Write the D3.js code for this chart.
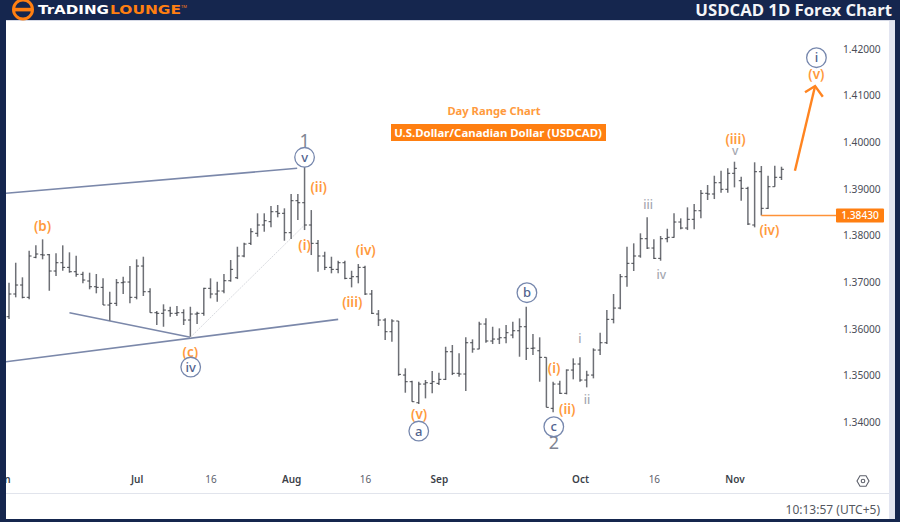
<!DOCTYPE html>
<html>
<head>
<meta charset="utf-8">
<script src="https://cdnjs.cloudflare.com/ajax/libs/d3/7.8.5/d3.min.js"></script>
<style>
  html, body { margin: 0; padding: 0; background: #fff; }
  svg { display: block; }
</style>
</head>
<body>
<div id="chart"></div>
<script>
const opens = [1.36258, 1.36745, 1.36938, 1.36674, 1.37532, 1.37588, 1.37588, 1.37238, 1.37416, 1.37317, 1.37223, 1.37167, 1.37024, 1.36901, 1.36888, 1.36509, 1.36545, 1.36987, 1.37002, 1.36674, 1.37345, 1.36794, 1.36344, 1.36331, 1.36386, 1.36331, 1.36344, 1.36187, 1.36316, 1.36331, 1.36867, 1.36745, 1.36809, 1.3703, 1.37094, 1.3756, 1.37832, 1.38047, 1.38225, 1.38296, 1.3851, 1.38476, 1.3806, 1.38746, 1.38703, 1.38225, 1.37832, 1.3756, 1.37317, 1.37274, 1.37416, 1.37081, 1.37116, 1.37317, 1.36745, 1.36316, 1.36187, 1.35936, 1.36166, 1.35007, 1.34864, 1.34413, 1.34814, 1.34829, 1.34829, 1.34915, 1.35507, 1.35044, 1.35029, 1.357, 1.35565, 1.36101, 1.35737, 1.35779, 1.35807, 1.35865, 1.35957, 1.36043, 1.3558, 1.35528, 1.35387, 1.34293, 1.34814, 1.34615, 1.35114, 1.35243, 1.349, 1.35007, 1.35543, 1.357, 1.36202, 1.36444, 1.37116, 1.37403, 1.3756, 1.37931, 1.37731, 1.3751, 1.37931, 1.37961, 1.38289, 1.3816, 1.38347, 1.38531, 1.38905, 1.3889, 1.39132, 1.38991, 1.39334, 1.39175, 1.39012, 1.38225, 1.39368, 1.38583, 1.39046, 1.39248]
const highs = [1.36987, 1.37416, 1.37103, 1.37673, 1.37789, 1.37918, 1.37603, 1.37618, 1.37789, 1.37639, 1.37566, 1.37223, 1.37202, 1.37174, 1.37081, 1.36794, 1.37066, 1.37116, 1.37345, 1.37489, 1.37545, 1.36867, 1.3638, 1.36524, 1.36472, 1.36487, 1.36417, 1.36472, 1.36365, 1.3688, 1.37081, 1.37009, 1.37174, 1.37474, 1.37759, 1.37845, 1.38154, 1.38476, 1.38476, 1.38632, 1.38654, 1.38583, 1.3889, 1.3889, 1.39512, 1.38546, 1.37903, 1.37652, 1.37545, 1.37459, 1.37459, 1.37244, 1.37388, 1.37352, 1.36831, 1.36401, 1.36223, 1.36202, 1.36166, 1.35151, 1.34885, 1.34864, 1.349, 1.35093, 1.35057, 1.35614, 1.35651, 1.35473, 1.35816, 1.35773, 1.36151, 1.36223, 1.36043, 1.36009, 1.3608, 1.36151, 1.36223, 1.36472, 1.35887, 1.35816, 1.35387, 1.34864, 1.34885, 1.35129, 1.35365, 1.35387, 1.35099, 1.3558, 1.35915, 1.36401, 1.36745, 1.37174, 1.37759, 1.37832, 1.38047, 1.3839, 1.37918, 1.37989, 1.38145, 1.38476, 1.38368, 1.38604, 1.38675, 1.38975, 1.39083, 1.39282, 1.3939, 1.39441, 1.39583, 1.39261, 1.39046, 1.3957, 1.3949, 1.39282, 1.39497, 1.39475]
const lows = [1.36208, 1.36674, 1.36652, 1.36631, 1.3751, 1.37489, 1.36815, 1.37131, 1.37244, 1.37202, 1.37116, 1.36974, 1.36846, 1.3676, 1.36509, 1.36172, 1.36487, 1.36745, 1.36545, 1.36631, 1.36702, 1.36344, 1.3608, 1.36043, 1.36258, 1.36273, 1.3608, 1.35829, 1.36101, 1.36279, 1.36652, 1.3658, 1.3676, 1.37009, 1.37066, 1.37532, 1.37796, 1.37974, 1.38081, 1.38175, 1.3839, 1.37888, 1.37924, 1.38332, 1.38117, 1.37581, 1.37223, 1.37259, 1.37189, 1.37189, 1.3706, 1.36888, 1.36974, 1.36723, 1.36316, 1.36058, 1.35758, 1.35721, 1.34992, 1.34628, 1.34435, 1.34385, 1.34507, 1.34615, 1.34793, 1.349, 1.35007, 1.34971, 1.34664, 1.35486, 1.35558, 1.357, 1.35672, 1.35672, 1.35687, 1.35794, 1.354, 1.35329, 1.35436, 1.34864, 1.34314, 1.34207, 1.346, 1.34593, 1.34915, 1.34864, 1.34743, 1.34936, 1.35436, 1.35672, 1.36116, 1.36417, 1.36901, 1.37238, 1.37523, 1.3771, 1.37495, 1.37459, 1.37854, 1.37952, 1.38133, 1.38117, 1.38133, 1.38368, 1.38761, 1.38782, 1.38918, 1.38918, 1.39033, 1.38746, 1.38225, 1.38175, 1.3843, 1.38568, 1.39046, 1.3919]
const closes = [1.36745, 1.36938, 1.36674, 1.3756, 1.37603, 1.37581, 1.37238, 1.37416, 1.37317, 1.37223, 1.37167, 1.37045, 1.36901, 1.36888, 1.36509, 1.36545, 1.36987, 1.37002, 1.36674, 1.37345, 1.36794, 1.36344, 1.36331, 1.36401, 1.36331, 1.36344, 1.36187, 1.36316, 1.36331, 1.36867, 1.36745, 1.36809, 1.3703, 1.37274, 1.3756, 1.37817, 1.38081, 1.38225, 1.38317, 1.3851, 1.38476, 1.3806, 1.38746, 1.38703, 1.38225, 1.37832, 1.3756, 1.37317, 1.37274, 1.37416, 1.37081, 1.37116, 1.37317, 1.36745, 1.36331, 1.36187, 1.35936, 1.36166, 1.35022, 1.34864, 1.34435, 1.34814, 1.34842, 1.34864, 1.34915, 1.35507, 1.35044, 1.35029, 1.357, 1.35565, 1.36101, 1.35737, 1.35779, 1.35807, 1.35915, 1.35957, 1.36043, 1.3558, 1.35586, 1.35387, 1.34314, 1.34814, 1.34615, 1.35114, 1.35243, 1.349, 1.35007, 1.35543, 1.357, 1.36202, 1.36444, 1.37116, 1.37403, 1.3756, 1.37931, 1.37731, 1.3751, 1.37931, 1.37961, 1.38289, 1.3816, 1.38347, 1.38531, 1.38905, 1.3889, 1.39132, 1.38991, 1.39334, 1.39441, 1.39012, 1.38246, 1.39368, 1.38583, 1.39046, 1.39248, 1.3942]

const priceTicks = [1.42, 1.41, 1.40, 1.39, 1.38, 1.37, 1.36, 1.35, 1.34]
const timeTickBars = [0, 20, 31, 43, 54, 65, 86, 97, 109]
const timeTickLabels = ['Jun', 'Jul', '16', 'Aug', '16', 'Sep', 'Oct', '16', 'Nov']
const lastPrice = 1.3843
const lastPriceBar = 113

// trend lines, each as [bar, price] ends
const channelLines = [
  [[0.55, 1.38905], [43.9, 1.39441]],
  [[0.55, 1.35292], [50, 1.36202]],
  [[10, 1.36343], [28, 1.35816]]
]
const faintLine = [[28, 1.35816], [45, 1.38225]]
const arrowShaft = [[118, 1.39389], [121, 1.41206]]
const arrowHead = [[119.5, 1.41071], [121, 1.41206], [122.15, 1.40977]]

const orangeLabels = ['(b)', '(c)', '(ii)', '(i)', '(iv)', '(iii)', '(v)', '(i)', '(ii)', '(iii)', '(iv)', '(v)']
const orangeBars = [6, 28, 47.1, 45, 54.1, 52.1, 62.05, 82.15, 84.1, 109.15, 114.2, 121.2]
const orangePrices = [1.38203, 1.35494, 1.39033, 1.37781, 1.37673, 1.36558, 1.34164, 1.35151, 1.34271, 1.40063, 1.38117, 1.41457]

const grayLabels = ['i', 'ii', 'iii', 'iv', 'v']
const grayBars = [86, 87.05, 96.15, 98.1, 109.1]
const grayPrices = [1.35794, 1.34486, 1.38654, 1.37152, 1.39818]

const degreeLabels = ['1', '2']
const degreeBars = [45, 82.1]
const degreePrices = [1.40027, 1.33555]

const circleLabels = ['iv', 'v', 'a', 'b', 'c', 'i']
const circleBars = [28.05, 45, 62, 78.1, 82.1, 121.2]
const circlePrices = [1.35179, 1.39677, 1.33806, 1.36773, 1.33898, 1.41813]

const width = 900
const height = 522
const navy = '#15264e'
const orange = '#ff7f11'
const labelOrange = '#ff9a3d'
const uiFont = '"Noto Sans", sans-serif'

const svg = d3.select('#chart')
  .append('svg')
  .attr('width', width)
  .attr('height', height)
  .style('font-family', uiFont)

const x = d3.scaleLinear([1, 116], [9, 781.5])
const y = d3.scaleLinear([1.34, 1.42], [422, 49])

svg.append('rect').attr('width', width).attr('height', height).attr('fill', '#fff')

// axes
const yAxis = svg.append('g')
  .attr('transform', 'translate(843, 0)')
  .call(d3.axisRight(y).tickValues(priceTicks).tickFormat(d3.format('.5f')).tickSize(0).tickPadding(0))
yAxis.select('.domain').remove()
yAxis.selectAll('text')
  .attr('font-size', 10.2)
  .attr('font-family', uiFont)
  .attr('fill', '#4a4d57')

const xAxis = svg.append('g')
  .attr('transform', 'translate(0, 476)')
  .call(d3.axisBottom(x).tickValues(timeTickBars).tickFormat((d, i) => timeTickLabels[i]).tickSize(0).tickPadding(0))
xAxis.select('.domain').remove()
xAxis.selectAll('text')
  .attr('font-size', 10)
  .attr('font-family', uiFont)
  .attr('font-weight', (d, i) => /\d/.test(timeTickLabels[i]) ? 400 : 600)
  .attr('fill', (d, i) => /\d/.test(timeTickLabels[i]) ? '#5d606b' : '#3c3f49')

const path = d3.line().x(d => x(d[0])).y(d => y(d[1]))

// channels
svg.append('g')
  .selectAll('path')
  .data(channelLines)
  .join('path')
  .attr('d', path)
  .attr('fill', 'none')
  .attr('stroke', '#7b88aa')
  .attr('stroke-width', 1.6)

svg.append('path')
  .attr('d', path(faintLine))
  .attr('fill', 'none')
  .attr('stroke', '#d9dbe0')
  .attr('stroke-width', 1)
  .attr('stroke-dasharray', '2 1')

// price bars
const bars = svg.append('g')
  .selectAll('g')
  .data(opens)
  .join('g')
  .attr('transform', (d, i) => `translate(${x(i + 1)}, 0)`)

bars.append('line')
  .attr('y1', (d, i) => y(highs[i]))
  .attr('y2', (d, i) => y(lows[i]))
  .attr('stroke', '#6e7076')
  .attr('stroke-width', 1.5)

bars.append('line')
  .attr('x1', -2.4)
  .attr('x2', 0)
  .attr('y1', d => y(d))
  .attr('y2', d => y(d))
  .attr('stroke', '#33363c')
  .attr('stroke-width', 0.9)

bars.append('line')
  .attr('x1', 0)
  .attr('x2', 2.4)
  .attr('y1', (d, i) => y(closes[i]))
  .attr('y2', (d, i) => y(closes[i]))
  .attr('stroke', '#33363c')
  .attr('stroke-width', 0.9)

// last price line and tag
svg.append('line')
  .attr('x1', x(lastPriceBar))
  .attr('x2', 836)
  .attr('y1', y(lastPrice))
  .attr('y2', y(lastPrice))
  .attr('stroke', '#ff9238')
  .attr('stroke-width', 1.4)

svg.append('rect')
  .attr('x', 836)
  .attr('y', y(lastPrice) - 6.9)
  .attr('width', 48)
  .attr('height', 14)
  .attr('rx', 1)
  .attr('fill', orange)

svg.append('text')
  .attr('x', 860)
  .attr('y', y(lastPrice) + 4)
  .attr('text-anchor', 'middle')
  .attr('font-size', 10.2)
  .attr('font-weight', 500)
  .attr('fill', '#fff')
  .text(d3.format('.5f')(lastPrice))

// forecast arrow
svg.append('g')
  .selectAll('path')
  .data([arrowShaft, arrowHead])
  .join('path')
  .attr('d', path)
  .attr('fill', 'none')
  .attr('stroke', '#ff8420')
  .attr('stroke-width', 2.4)

// wave labels
function addLabels (labels, bars, prices, size, weight, color) {
  svg.append('g')
    .selectAll('text')
    .data(labels)
    .join('text')
    .attr('x', (d, i) => x(bars[i]))
    .attr('y', (d, i) => y(prices[i]))
    .attr('dy', '0.35em')
    .attr('text-anchor', 'middle')
    .attr('font-size', size)
    .attr('font-weight', weight)
    .attr('fill', color)
    .text(d => d)
}

addLabels(orangeLabels, orangeBars, orangePrices, 13.5, 600, labelOrange)
addLabels(grayLabels, grayBars, grayPrices, 12, 500, '#a4a7b0')
addLabels(degreeLabels, degreeBars, degreePrices, 18, 400, '#7f8592')

svg.append('g')
  .selectAll('circle')
  .data(circleLabels)
  .join('circle')
  .attr('cx', (d, i) => x(circleBars[i]))
  .attr('cy', (d, i) => y(circlePrices[i]))
  .attr('r', 9.8)
  .attr('fill', '#fff')
  .attr('stroke', '#7687ad')
  .attr('stroke-width', 1.3)
addLabels(circleLabels, circleBars, circlePrices, 13, 500, '#52638e')

// chart captions
svg.append('text')
  .attr('x', 494)
  .attr('y', 115)
  .attr('text-anchor', 'middle')
  .attr('font-size', 11.2)
  .attr('font-weight', 700)
  .attr('fill', labelOrange)
  .text('Day Range Chart')

svg.append('rect')
  .attr('x', 391)
  .attr('y', 124)
  .attr('width', 215)
  .attr('height', 17)
  .attr('fill', orange)

svg.append('text')
  .attr('x', 498)
  .attr('y', 136.5)
  .attr('text-anchor', 'middle')
  .attr('font-size', 11.4)
  .attr('font-weight', 700)
  .attr('fill', '#fff')
  .text('U.S.Dollar/Canadian Dollar (USDCAD)')

// settings icon
const gear = svg.append('g').attr('transform', 'translate(863, 481)')
gear.append('path')
  .attr('d', d3.line()(d3.range(6).map(i => {
    const a = Math.PI / 3 * i
    return [6 * Math.cos(a), 6 * Math.sin(a)]
  })) + 'Z')
  .attr('fill', 'none')
  .attr('stroke', '#5d606b')
  .attr('stroke-width', 1.1)
gear.append('circle')
  .attr('r', 1.8)
  .attr('fill', 'none')
  .attr('stroke', '#5d606b')
  .attr('stroke-width', 1.1)

svg.append('line')
  .attr('x1', 6)
  .attr('x2', 889)
  .attr('y1', 493.5)
  .attr('y2', 493.5)
  .attr('stroke', '#e1e4ec')

svg.append('text')
  .attr('x', 880)
  .attr('y', 514)
  .attr('text-anchor', 'end')
  .attr('font-size', 12)
  .attr('fill', '#55585f')
  .text('10:13:57 (UTC+5)')

// page frame
svg.append('rect').attr('x', 889).attr('y', 20).attr('width', 6).attr('height', 499).attr('fill', '#e2e5f1')
const frame = svg.append('g').attr('fill', navy)
frame.append('rect').attr('width', width).attr('height', 20)
frame.append('rect').attr('y', 20).attr('width', 6).attr('height', height - 20)
frame.append('rect').attr('x', 895).attr('y', 20).attr('width', 5).attr('height', height - 20)
frame.append('rect').attr('y', 519).attr('width', width).attr('height', 3)
svg.append('line')
  .attr('x1', 6)
  .attr('x2', 895)
  .attr('y1', 20.5)
  .attr('y2', 20.5)
  .attr('stroke', '#d5d9e6')

// logo
const logo = svg.append('g')
logo.append('circle')
  .attr('cx', 23)
  .attr('cy', 9.5)
  .attr('r', 9.5)
  .attr('fill', navy)
  .attr('stroke', orange)
  .attr('stroke-width', 3)
logo.append('rect')
  .attr('x', 14)
  .attr('y', 7.8)
  .attr('width', 18)
  .attr('height', 3.6)
  .attr('fill', orange)

logo.append('text')
  .attr('x', 38)
  .attr('y', 14)
  .attr('font-family', '"DejaVu Sans", sans-serif')
  .attr('font-size', 11.5)
  .attr('font-weight', 700)
  .attr('fill', '#fff')
  .attr('textLength', 71)
  .attr('lengthAdjust', 'spacingAndGlyphs')
  .text('TrADING')
logo.append('text')
  .attr('x', 110)
  .attr('y', 14)
  .attr('font-family', '"DejaVu Sans", sans-serif')
  .attr('font-size', 11.5)
  .attr('font-weight', 700)
  .attr('fill', orange)
  .attr('textLength', 71)
  .attr('lengthAdjust', 'spacingAndGlyphs')
  .text('LOUNGE')
logo.append('text')
  .attr('x', 181)
  .attr('y', 8)
  .attr('font-size', 4)
  .attr('fill', orange)
  .text('TM')

svg.append('text')
  .attr('x', 892)
  .attr('y', 15.5)
  .attr('text-anchor', 'end')
  .attr('font-family', '"Open Sans", sans-serif')
  .attr('font-size', 16.7)
  .attr('font-weight', 700)
  .attr('fill', '#f4f5f8')
  .text('USDCAD 1D Forex Chart')
</script>
</body>
</html>
